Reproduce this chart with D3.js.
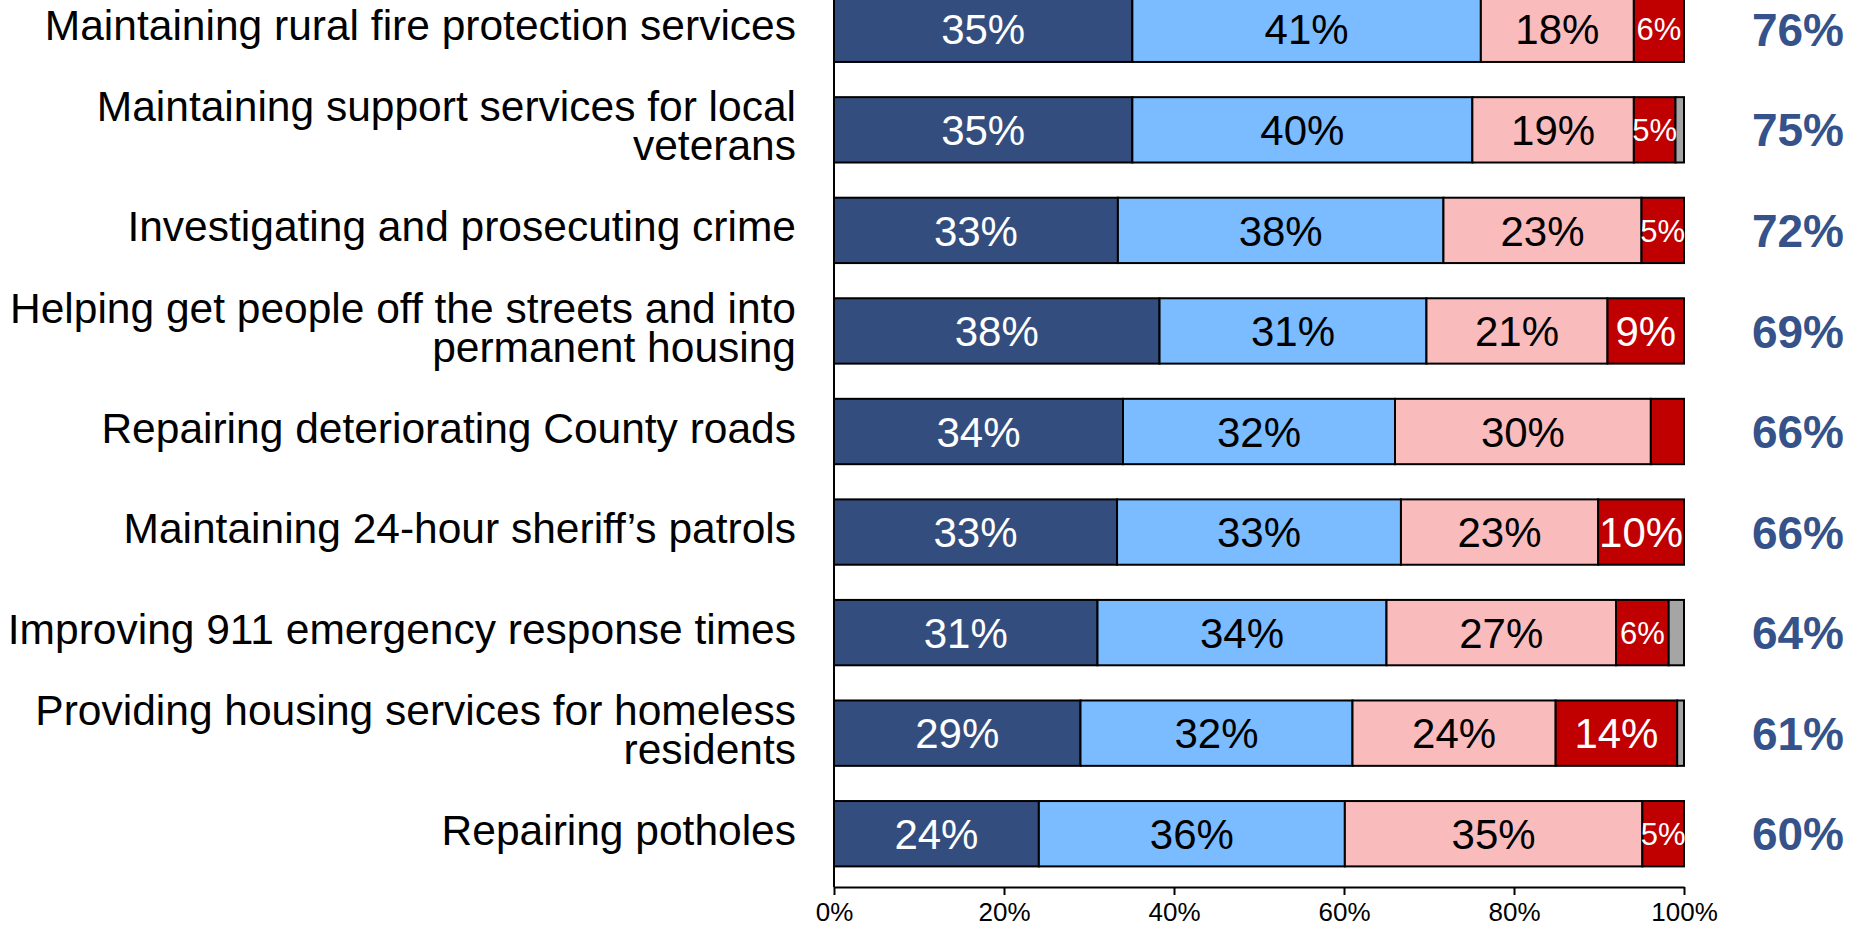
<!DOCTYPE html>
<html>
<head>
<meta charset="utf-8">
<script src="https://cdn.jsdelivr.net/npm/d3@7"></script>
<style>
  html, body { margin: 0; padding: 0; background: #fff; overflow: hidden; }
  svg { display: block; font-family: "Liberation Sans", Arial, sans-serif; }
</style>
</head>
<body>
<svg id="chart" width="1862" height="930"></svg>
<script>
// Categories (each entry may break onto two lines)
var ITEMS = [
  ["Maintaining rural fire protection services"],
  ["Maintaining support services for local", "veterans"],
  ["Investigating and prosecuting crime"],
  ["Helping get people off the streets and into", "permanent housing"],
  ["Repairing deteriorating County roads"],
  ["Maintaining 24-hour sheriff\u2019s patrols"],
  ["Improving 911 emergency response times"],
  ["Providing housing services for homeless", "residents"],
  ["Repairing potholes"]
];
// Series values (percent of respondents)
var VERY     = [35.1, 35.1, 33.4, 38.3, 34.0, 33.3, 31.0, 29.0, 24.1];
var SOMEWHAT = [41.0, 40.0, 38.3, 31.4, 32.0, 33.4, 34.0, 32.0, 36.0];
var NOT_TOO  = [18.0, 19.0, 23.3, 21.3, 30.1, 23.2, 27.0, 23.9, 35.0];
var NOT_AT   = [5.9, 4.9, 5.0, 9.0, 3.9, 10.1, 6.2, 14.3, 4.9];
var DK       = [0, 1.0, 0, 0, 0, 0, 1.8, 0.8, 0];
// Total important labels on the right
var TOTALS = [76, 75, 72, 69, 66, 66, 64, 61, 60];
var TICKS = [0, 20, 40, 60, 80, 100];

var SERIES = ["very", "somewhat", "notToo", "notAt", "dk"];
var COLORS = { very: "#334e7e", somewhat: "#7bbbff", notToo: "#f9bbbb", notAt: "#c00000", dk: "#a5a5a5" };
var TEXT_COLORS = { very: "#fff", somewhat: "#000", notToo: "#000", notAt: "#fff", dk: "#000" };

var rows = ITEMS.map(function (lines, i) {
  return { id: i, lines: lines, very: VERY[i], somewhat: SOMEWHAT[i], notToo: NOT_TOO[i], notAt: NOT_AT[i], dk: DK[i], total: TOTALS[i] };
});

var svg = d3.select("#chart");
var x0 = 834, x1 = 1684, axisY = 887;

var x = d3.scaleLinear().domain([0, 100]).range([x0, x1]);
var y = d3.scaleBand().domain(rows.map(function (d) { return d.id; }))
  .range([-21, 884]).paddingInner(0.35).paddingOuter(0.175);

var stacked = d3.stack().keys(SERIES)(rows);

// bars
var layers = svg.append("g").selectAll("g").data(stacked).join("g")
  .attr("fill", function (s) { return COLORS[s.key]; });

layers.selectAll("rect").data(function (s) { return s.filter(function (d) { return d[1] - d[0] > 0; }); })
  .join("rect")
  .attr("x", function (d) { return x(d[0]); })
  .attr("y", function (d) { return y(d.data.id); })
  .attr("width", function (d) { return x(d[1]) - x(d[0]); })
  .attr("height", y.bandwidth())
  .attr("stroke", "#000").attr("stroke-width", 2);

// segment labels (small font for narrow segments, none for the tiniest)
var fmt = function (v) { return Math.round(v) + "%"; };
stacked.forEach(function (s) {
  if (s.key === "dk") return;
  svg.append("g").selectAll("text").data(s.filter(function (d) { return d[1] - d[0] >= 4.5; }))
    .join("text")
    .attr("x", function (d) { return (x(d[0]) + x(d[1])) / 2; })
    .attr("y", function (d) { return y(d.data.id) + y.bandwidth() / 2; })
    .attr("dy", "0.36em")
    .attr("text-anchor", "middle")
    .attr("fill", TEXT_COLORS[s.key])
    .style("font-size", function (d) { return (d[1] - d[0] < 7 ? 31 : 42) + "px"; })
    .text(function (d) { return fmt(d[1] - d[0]); });
});

// category labels
var lab = svg.append("g").selectAll("text").data(rows).join("text")
  .attr("text-anchor", "end")
  .attr("fill", "#000")
  .style("font-size", "42.5px")
  .attr("transform", function (d) { return "translate(796," + (y(d.id) + y.bandwidth() / 2) + ")"; });
lab.selectAll("tspan").data(function (d) {
    return d.lines.map(function (t, j) { return { t: t, dy: (j - (d.lines.length - 1) / 2) * 39 }; });
  })
  .join("tspan")
  .attr("x", 0)
  .attr("y", function (d) { return d.dy; })
  .attr("dy", "0.26em")
  .text(function (d) { return d.t; });

// totals on the right
svg.append("g").selectAll("text").data(rows).join("text")
  .attr("x", 1798)
  .attr("y", function (d) { return y(d.id) + y.bandwidth() / 2; })
  .attr("dy", "0.36em")
  .attr("text-anchor", "middle")
  .attr("fill", "#35528a")
  .style("font-size", "46px").style("font-weight", "bold")
  .text(function (d) { return d.total + "%"; });

// vertical axis line
svg.append("line").attr("x1", x0).attr("x2", x0).attr("y1", 0).attr("y2", axisY)
  .attr("stroke", "#000").attr("stroke-width", 2);

// x axis
var xAxis = svg.append("g").attr("transform", "translate(0," + axisY + ")")
  .call(d3.axisBottom(x).tickValues(TICKS).tickSize(8).tickSizeOuter(0).tickPadding(8)
    .tickFormat(function (d) { return d + "%"; }));
xAxis.select(".domain").attr("stroke", "#000").attr("stroke-width", 2);
xAxis.selectAll(".tick line").attr("stroke", "#000").attr("stroke-width", 2);
xAxis.selectAll(".tick text").attr("fill", "#000")
  .style("font-size", "26px").style("font-family", "'Liberation Sans', Arial, sans-serif");
</script>
</body>
</html>
